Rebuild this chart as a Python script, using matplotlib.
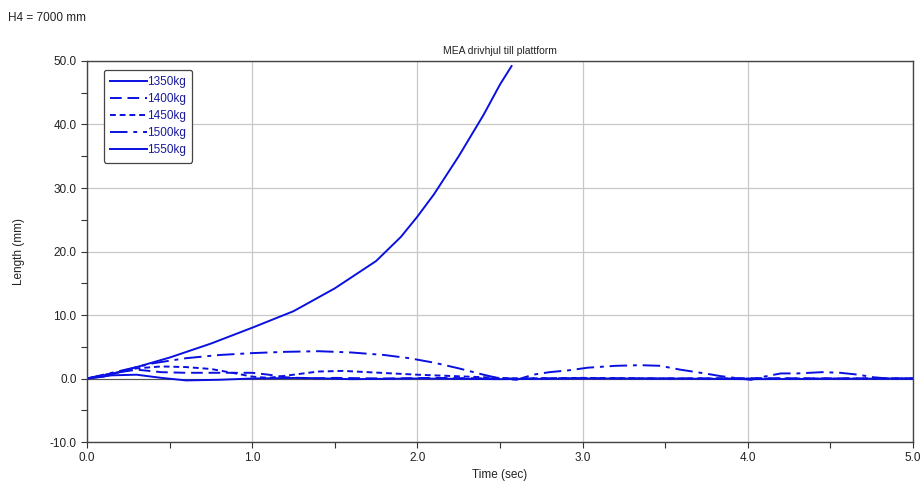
import matplotlib
matplotlib.use('Agg')
import matplotlib.pyplot as plt
from matplotlib.ticker import MultipleLocator, FormatStrFormatter
import numpy as np

plt.rcParams['font.family'] = ['Liberation Sans', 'DejaVu Sans']

# (time in s, length in mm)
t_1350 = [0.0, 0.1, 0.2, 0.3, 0.5, 0.75, 1.0, 1.25, 1.5, 1.75, 1.9, 2.0, 2.1, 2.25, 2.4, 2.5, 2.57]
y_1350 = [0.0, 0.3, 1.0, 1.8, 3.3, 5.5, 8.0, 10.6, 14.2, 18.5, 22.3, 25.5, 29.0, 35.0, 41.5, 46.3, 49.2]

t_1400 = [0.0, 0.15, 0.3, 0.45, 0.6, 0.8, 1.0, 1.1, 1.2, 1.35, 1.5, 1.8, 2.1, 2.5, 3.0, 3.5, 4.0, 5.0]
y_1400 = [0.0, 0.8, 1.4, 1.0, 0.9, 0.9, 0.9, 0.6, 0.2, 0.0, 0.1, 0.0, 0.1, 0.0, 0.05, 0.0, 0.05, 0.0]

t_1450 = [0.0, 0.15, 0.3, 0.45, 0.6, 0.75, 0.9, 1.0, 1.1, 1.25, 1.4, 1.55, 1.7, 1.85, 2.0, 2.2, 2.4, 2.6, 3.0, 3.5, 5.0]
y_1450 = [0.0, 0.8, 1.6, 1.9, 1.8, 1.5, 0.8, 0.3, 0.1, 0.6, 1.1, 1.2, 1.0, 0.8, 0.6, 0.4, 0.2, 0.0, 0.1, 0.0, 0.0]

t_1500 = [0.0, 0.2, 0.4, 0.6, 0.8, 1.0, 1.2, 1.4, 1.6, 1.8, 1.95, 2.1, 2.25, 2.4, 2.5, 2.6,
          2.7, 2.8, 2.92, 3.03, 3.2, 3.35, 3.47, 3.59, 3.74, 3.83, 3.95, 4.02,
          4.1, 4.2, 4.3, 4.45, 4.56, 4.67, 4.76, 4.85, 5.0]
y_1500 = [0.0, 1.2, 2.4, 3.2, 3.7, 4.0, 4.2, 4.3, 4.1, 3.7, 3.2, 2.5, 1.6, 0.6, 0.0, -0.2,
          0.6, 1.0, 1.3, 1.7, 2.0, 2.1, 2.0, 1.4, 0.8, 0.4, 0.0, -0.2,
          0.3, 0.8, 0.8, 1.0, 0.9, 0.6, 0.2, 0.0, 0.0]

t_1550 = [0.0, 0.15, 0.3, 0.45, 0.6, 0.8, 1.0, 1.3, 1.6, 2.0, 2.5, 3.0, 3.5, 4.0, 5.0]
y_1550 = [0.0, 0.5, 0.6, 0.1, -0.3, -0.2, 0.0, 0.1, -0.1, 0.0, -0.1, 0.0, 0.0, -0.1, 0.0]

labels = ['1350kg', '1400kg', '1450kg', '1500kg', '1550kg']

blue = '#0a10e0'

fig = plt.figure(figsize=(9.22, 4.86), dpi=100)
ax = fig.add_axes([0.0944, 0.0905, 0.8958, 0.784])

ax.plot(t_1350, y_1350, color=blue, lw=1.4, label=labels[0])
ax.plot(t_1400, y_1400, color=blue, lw=1.4, dashes=(6, 3), label=labels[1])
ax.plot(t_1450, y_1450, color=blue, lw=1.4, dashes=(3, 2), label=labels[2])
ax.plot(t_1500, y_1500, color=blue, lw=1.4, dashes=(9, 3, 2, 3), label=labels[3])
ax.plot(t_1550, y_1550, color=blue, lw=1.4, label=labels[4])

ax.axhline(0, color='#555555', lw=0.8, zorder=1)

ax.set_xlim(0, 5)
ax.set_ylim(-10, 50)
ax.xaxis.set_major_locator(MultipleLocator(1.0))
ax.xaxis.set_minor_locator(MultipleLocator(0.5))
ax.yaxis.set_major_locator(MultipleLocator(10.0))
ax.yaxis.set_minor_locator(MultipleLocator(5.0))
ax.xaxis.set_major_formatter(FormatStrFormatter('%.1f'))
ax.yaxis.set_major_formatter(FormatStrFormatter('%.1f'))
ax.tick_params(which='both', direction='out', length=4, width=0.8, color='#333333',
               labelsize=8.5, labelcolor='#222222')
ax.grid(True, which='major', color='#c8c8c8', lw=0.9)
ax.set_axisbelow(True)
for s in ax.spines.values():
    s.set_color('#444444')
    s.set_linewidth(1.0)

ax.set_xlabel('Time (sec)', fontsize=8.5, color='#222222', labelpad=3)
ax.set_ylabel('Length (mm)', fontsize=8.5, color='#222222', labelpad=18)
ax.set_title('MEA drivhjul till plattform', fontsize=7.5, color='#222222', pad=5)
fig.text(0.009, 0.963, 'H4 = 7000 mm', fontsize=8.5, color='#222222', va='center')

leg = ax.legend(loc='upper left', bbox_to_anchor=(0.02, 0.977), fontsize=8.5,
                handlelength=3.1, handletextpad=0.0, labelspacing=0.42,
                borderpad=0.55, borderaxespad=0.0, fancybox=True, framealpha=1)
leg.get_frame().set_edgecolor('#444444')
leg.get_frame().set_linewidth(0.9)
for txt in leg.get_texts():
    txt.set_color('#1a1a9a')

fig.savefig('out.png', dpi=100)
